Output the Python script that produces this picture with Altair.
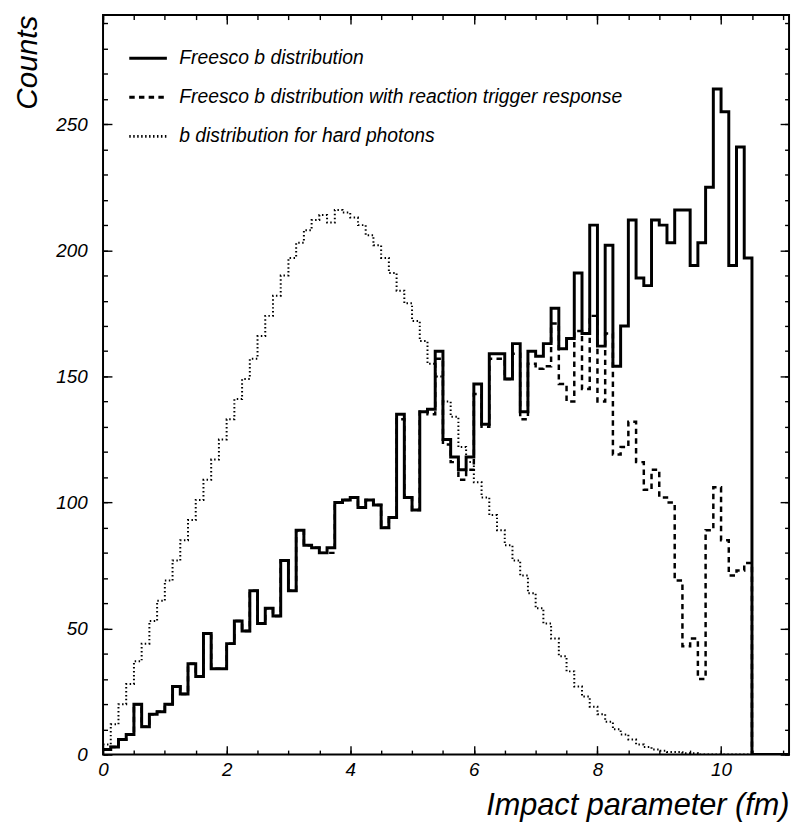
import altair as alt
import pandas as pd

BIN_WIDTH = 0.125
X_MAX = 11.1
Y_MAX = 293.3
FONT = "Liberation Sans"

series_names = [
    "Freesco b distribution",
    "Freesco b distribution with reaction trigger response",
    "b distribution for hard photons",
]

# counts per 0.125 fm bin, starting at b = 0
solid_counts = [
    2, 3, 6, 8, 20, 11, 16, 17, 20, 27,
    24, 36, 31, 48, 34, 34, 44, 53, 49, 65,
    52, 58, 55, 77, 65, 89, 83, 82, 80, 82,
    100, 101, 102, 98, 101, 99, 90, 94, 135, 102,
    97, 136, 137, 160, 125, 118, 113, 118, 147, 131,
    159, 159, 149, 163, 136, 160, 158, 163, 177, 161,
    165, 191, 167, 210, 162, 202, 154, 170, 212, 189,
    186, 212, 210, 203, 216, 216, 194, 203, 225, 264,
    255, 194, 241, 197,
]

dashed_counts = [
    2, 3, 6, 8, 20, 11, 16, 17, 20, 27,
    24, 36, 31, 48, 34, 34, 44, 53, 49, 65,
    52, 58, 55, 77, 65, 89, 83, 82, 80, 80,
    100, 101, 102, 98, 101, 99, 90, 94, 133, 102,
    97, 136, 135, 157, 123, 116, 109, 113, 143, 130,
    157, 157, 149, 159, 133, 155, 153, 154, 171, 147,
    140, 168, 145, 174, 140, 167, 119, 122, 132, 116,
    105, 113, 102, 100, 69, 43, 46, 30, 89, 106,
    85, 71, 73, 76,
]

dotted_counts = [
    4, 12, 20, 28, 37, 44, 53, 61, 69, 77,
    85, 93, 101, 109, 117, 125, 133, 141, 149, 157,
    166, 174, 182, 190, 197, 203, 208, 212, 214, 211,
    216, 215, 213, 210, 206, 202, 197, 191, 184, 179,
    172, 164, 155, 150, 140, 134, 122, 116, 108, 102,
    95, 89, 83, 77, 71, 64, 58, 52, 46, 39,
    33, 27, 23, 19, 16, 13, 10, 8, 6, 4,
    3, 2, 1.5, 1, 1, 0.5, 0.5, 0, 0, 0,
    0, 0, 0, 0, 0, 0, 0, 0, 0,
]

x_major = [0, 2, 4, 6, 8, 10]
x_minor = [0.5 * i for i in range(23)]
y_major = [0, 50, 100, 150, 200, 250]
y_minor = list(range(0, 300, 10))

rows = []
for name, counts in zip(series_names, [solid_counts, dashed_counts, dotted_counts]):
    for i, c in enumerate(counts):
        rows.append({"series": name, "b": i * BIN_WIDTH, "counts": c})
    end = len(counts) * BIN_WIDTH
    rows.append({"series": name, "b": end, "counts": 0})
    rows.append({"series": name, "b": X_MAX + 0.2, "counts": 0})
df = pd.DataFrame(rows)

x_scale = alt.Scale(domain=[0, X_MAX], nice=False, zero=False)
y_scale = alt.Scale(domain=[0, Y_MAX], nice=False, zero=False)

label_style = dict(labelFont=FONT, labelFontSize=19, labelFontStyle="italic",
                   labelColor="black", labelFlush=False)
title_style = dict(titleFont=FONT, titleFontStyle="italic",
                   titleFontWeight="normal", titleColor="black")

x_label_axis = alt.Axis(values=x_major, ticks=False, domain=False, grid=False,
                        labelPadding=6, format="d", orient="bottom",
                        title="Impact parameter (fm)", titleAlign="right",
                        titleFontSize=31,
                        titleBaseline="alphabetic", titleX=693, titleY=61,
                        **label_style, **title_style)
y_label_axis = alt.Axis(values=y_major, ticks=False, domain=False, grid=False,
                        labelPadding=16, format="d", orient="left",
                        title="Counts", titleAngle=270, titleAlign="right",
                        titleFontSize=30,
                        titleBaseline="alphabetic", titleX=-67, titleY=0,
                        **label_style, **title_style)


def tick_axis(values, orient, size):
    return alt.Axis(values=values, orient=orient, labels=False, domain=False,
                    grid=False, ticks=True, tickSize=size, offset=-size,
                    tickWidth=1.4, tickColor="black", title=None)


legend = alt.Legend(title=None, orient="none", legendX=25, legendY=23,
                    symbolType="stroke", symbolSize=1444, symbolStrokeWidth=3,
                    symbolStrokeColor="black", labelFont=FONT, labelFontSize=19.5,
                    labelFontStyle="italic", labelColor="black", labelLimit=1000,
                    labelOffset=11, rowPadding=9.5, padding=0)

dash_enc = alt.StrokeDash(
    "series:N",
    scale=alt.Scale(domain=series_names, range=[[1, 0], [5.5, 4.3], [1.5, 2.5]]),
    legend=legend,
)

base = alt.Chart(df)


def hist_layer(name, width, xaxis, yaxis):
    return (
        base.transform_filter(alt.datum.series == name)
        .mark_line(interpolate="step-after", clip=True, color="black",
                   strokeWidth=width, strokeJoin="miter", strokeCap="butt")
        .encode(
            x=alt.X("b:Q", scale=x_scale, axis=xaxis),
            y=alt.Y("counts:Q", scale=y_scale, axis=yaxis),
            strokeDash=dash_enc,
        )
    )


def axis_layer(xaxis, yaxis):
    return (
        base.transform_filter(alt.datum.series == series_names[0])
        .mark_point(opacity=0, size=1)
        .encode(
            x=alt.X("b:Q", scale=x_scale, axis=xaxis),
            y=alt.Y("counts:Q", scale=y_scale, axis=yaxis),
        )
    )


dotted_layer = hist_layer(series_names[2], 2, x_label_axis, y_label_axis)
dashed_layer = hist_layer(series_names[1], 2.5,
                          tick_axis(x_major, "bottom", 9), tick_axis(y_major, "left", 9))
solid_layer = hist_layer(series_names[0], 3,
                         tick_axis(x_minor, "bottom", 4.5), tick_axis(y_minor, "left", 4.5))
extra1 = axis_layer(tick_axis(x_major, "top", 9), tick_axis(y_major, "right", 9))
extra2 = axis_layer(tick_axis(x_minor, "top", 4.5), tick_axis(y_minor, "right", 4.5))

chart = (
    alt.layer(dotted_layer, dashed_layer, solid_layer, extra1, extra2)
    .resolve_axis(x="independent", y="independent")
    .properties(
        width=693,
        height=747,
        autosize=alt.AutoSizeParams(type="none"),
        padding={"left": 96, "top": 3, "right": 4, "bottom": 70},
        background="white",
    )
    .configure_view(stroke="black", strokeWidth=2)
)

chart.save("out.html", embed_options={"renderer": "svg", "actions": False})
